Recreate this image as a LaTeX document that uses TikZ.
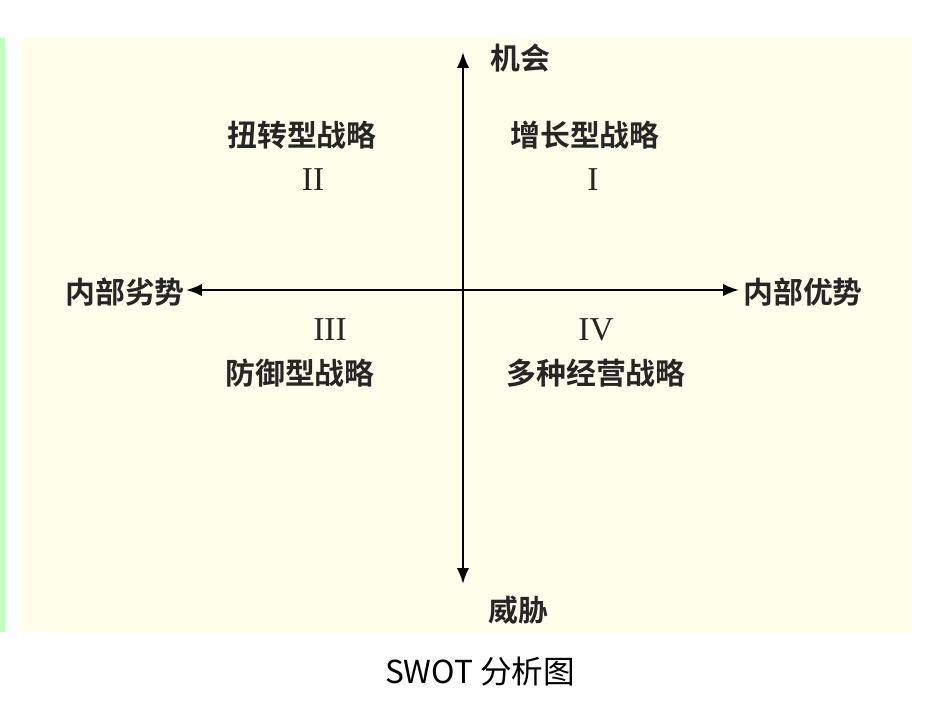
\documentclass[tikz,border=0pt]{standalone}
\usepackage{fontspec}
\usetikzlibrary{arrows.meta}
\newfontfamily\cjk{Noto Sans CJK SC}
\newfontfamily\cjkb{Noto Sans CJK SC Bold}
\newfontfamily\rom{Liberation Serif}
\begin{document}
\begin{tikzpicture}[x=0.02cm,y=-0.02cm,
  lab/.style={font=\cjkb\fontsize{17pt}{19pt}\selectfont, text=black!85},
  num/.style={font=\rom\fontsize{19pt}{21pt}\selectfont, text=black!85},
  axis/.style={line width=1.3pt, -{Latex[length=9pt,width=7pt]}}]
\useasboundingbox (0,0) rectangle (950,713);
\fill[white] (0,0) rectangle (950,713);
\fill[yellow!8] (20,38) rectangle (912,632);
\fill[green!25!white] (0,38) rectangle (5,632);
\node[lab] (o) at (520,58) {机会};
\node[lab] (t) at (518,610) {威胁};
\node[lab] (w) at (125,292) {内部劣势};
\node[lab] (s) at (803,292) {内部优势};
\coordinate (c) at (463,290);
\coordinate (top) at (463,52);
\coordinate (bot) at (463,584);
\coordinate (lft) at (186,290);
\coordinate (rgt) at (739,290);
\draw[axis] (c) -- (top);
\draw[axis] (c) -- (bot);
\draw[axis] (c) -- (lft);
\draw[axis] (c) -- (rgt);
\node[lab] (q2) at (302,135) {扭转型战略};
\node[num] (n2) at (313,180) {II};
\node[lab] (q1) at (585,135) {增长型战略};
\node[num] (n1) at (593,180) {I};
\node[num] (n3) at (330,330) {III};
\node[lab] (q3) at (300,373) {防御型战略};
\node[num] (n4) at (596,330) {IV};
\node[lab] (q4) at (596,373) {多种经营战略};
\node[font=\cjk\fontsize{18pt}{20pt}\selectfont] (cap) at (480,672) {SWOT 分析图};
\end{tikzpicture}
\end{document}
